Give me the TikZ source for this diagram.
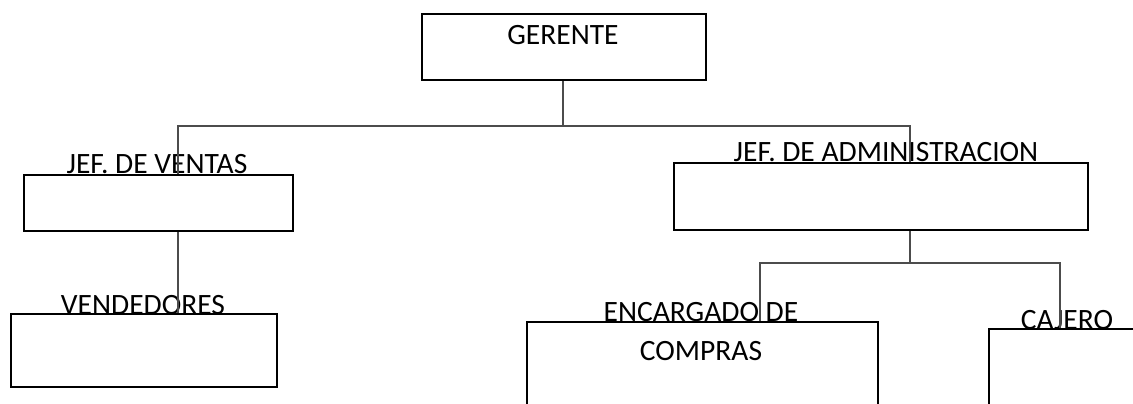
\documentclass[tikz,border=0pt]{standalone}
\usepackage{fontspec}
\setmainfont{Carlito}
\begin{document}
\begin{tikzpicture}[x=1pt,y=-1pt,
  box/.style={draw=black,line width=2.4pt,inner sep=0pt,anchor=north west},
  lab/.style={anchor=base,inner sep=0pt,font=\fontsize{29.5}{35}\selectfont},
  conn/.style={draw=black!70,line width=1.1pt}]
\useasboundingbox (0,0) rectangle (1133,404);
\clip (0,0) rectangle (1133,404);
% labels
\node[lab] (tger) at (563,45) {GERENTE};
\node[lab] (tjv) at (157,173) {JEF. DE VENTAS};
\node[lab] (tja) at (886,161) {JEF. DE ADMINISTRACION};
\node[lab] (tven) at (143,314) {VENDEDORES};
\node[lab] (tenc) at (701,321) {ENCARGADO DE};
\node[lab] (tcom) at (701,360) {COMPRAS};
\node[lab] (tcaj) at (1067,329) {CAJERO};
% boxes
\node[box,minimum width=284pt,minimum height=66pt] (ger) at (421,13) {};
\node[box,minimum width=269pt,minimum height=56pt] (jv) at (23,174) {};
\node[box,minimum width=414pt,minimum height=67pt] (ja) at (673,162) {};
\node[box,minimum width=266pt,minimum height=73pt] (ven) at (10,313) {};
\node[box,minimum width=351pt,minimum height=110pt] (enc) at (526,321) {};
\node[box,minimum width=200pt,minimum height=110pt] (caj) at (988,328) {};
% connector points
\coordinate (b0) at (563,126);
\coordinate (bl) at (178,126);
\coordinate (br) at (910,126);
\coordinate (c0) at (910,263);
\coordinate (cl) at (760,263);
\coordinate (cr) at (1060,263);
% connectors
\draw[conn] (b0 |- ger.south) -- (b0);
\draw[conn] (bl |- jv.north) -- (bl) -- (br) -- (br |- ja.north);
\draw[conn] (bl |- jv.south) -- (bl |- ven.north);
\draw[conn] (c0 |- ja.south) -- (c0);
\draw[conn] (cl |- enc.north) -- (cl) -- (cr) -- (cr |- caj.north);
\end{tikzpicture}
\end{document}
